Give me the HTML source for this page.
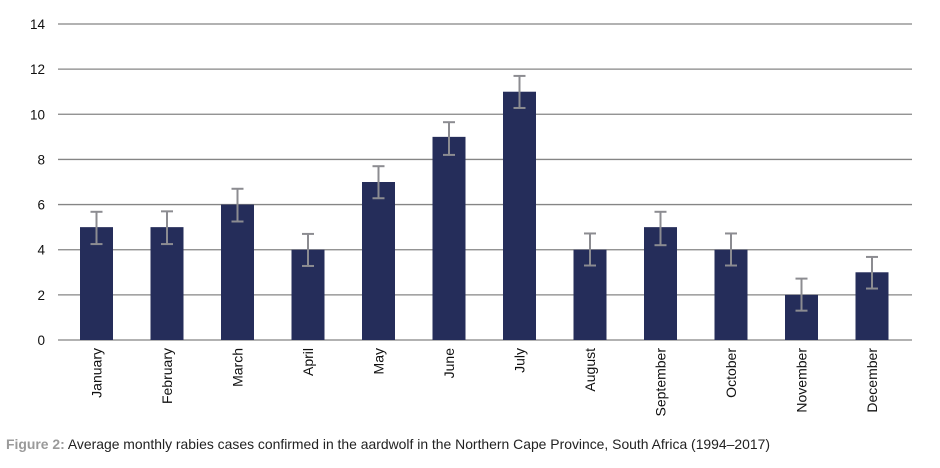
<!DOCTYPE html>
<html><head><meta charset="utf-8"><style>
body{margin:0;background:#fff;width:940px;height:463px;overflow:hidden;font-family:"Liberation Sans",sans-serif}
</style></head><body>
<svg id="chart" width="940" height="463" xmlns="http://www.w3.org/2000/svg"></svg>
<script>
const months=["January","February","March","April","May","June","July","August","September","October","November","December"];
const values=[5,5,6,4,7,9,11,4,5,4,2,3];
const errUp=[0.68,0.7,0.7,0.7,0.7,0.65,0.7,0.72,0.68,0.72,0.72,0.68];
const errDown=[0.75,0.75,0.75,0.72,0.72,0.8,0.72,0.7,0.8,0.7,0.7,0.72];
const yTicks=[0,2,4,6,8,10,12,14];
const svg=document.getElementById('chart');
const NS='http://www.w3.org/2000/svg';
const gx0=58,gx1=912,yBase=340,yTop=24,yMax=14;
const x0=61.25,band=70.5;
const y=v=>yBase-(v/yMax)*(yBase-yTop);
const xc=i=>x0+band*(i+0.5);
function mk(t,a){const e=document.createElementNS(NS,t);for(const k in a)e.setAttribute(k,a[k]);svg.appendChild(e);return e;}
yTicks.forEach(t=>{
  const l=mk('line',{x1:gx0,x2:gx1,y1:y(t),y2:y(t),stroke:'#858585','stroke-width':1.3});
  
  
  const tx=mk('text',{x:45,y:y(t)+5,'text-anchor':'end','font-size':13.5,fill:'#111'});
  tx.textContent=t;
  
  
});
months.forEach((m,i)=>{
  const c=xc(i),v=values[i];
  const b=mk('rect',{x:c-16.5,y:y(v),width:33,height:yBase-y(v),fill:'#252d5a'});
  
  
  const g=document.createElementNS(NS,'g');svg.appendChild(g);
  
  
  const hi=y(v+errUp[i]),lo=y(v-errDown[i]);
  [[c,hi,c,lo],[c-6,hi,c+6,hi],[c-6,lo,c+6,lo]].forEach(p=>{
    const l=document.createElementNS(NS,'line');
    l.setAttribute('x1',p[0]);l.setAttribute('y1',p[1]);l.setAttribute('x2',p[2]);l.setAttribute('y2',p[3]);
    l.setAttribute('stroke','#8c8c91');l.setAttribute('stroke-width',2);g.appendChild(l);
  });
  const t=mk('text',{x:0,y:0,'text-anchor':'end','font-size':14,fill:'#111',transform:`translate(${c+5},348) rotate(-90)`});
  t.textContent=m;
  
  
});
const cap=mk('text',{x:6,y:449,'font-size':14,fill:'#222',textLength:764,lengthAdjust:'spacingAndGlyphs'});


cap.innerHTML='<tspan font-weight="bold" fill="#9a9a9a">Figure 2:</tspan> Average monthly rabies cases confirmed in the aardwolf in the Northern Cape Province, South Africa (1994–2017)';
</script>
</body></html>
